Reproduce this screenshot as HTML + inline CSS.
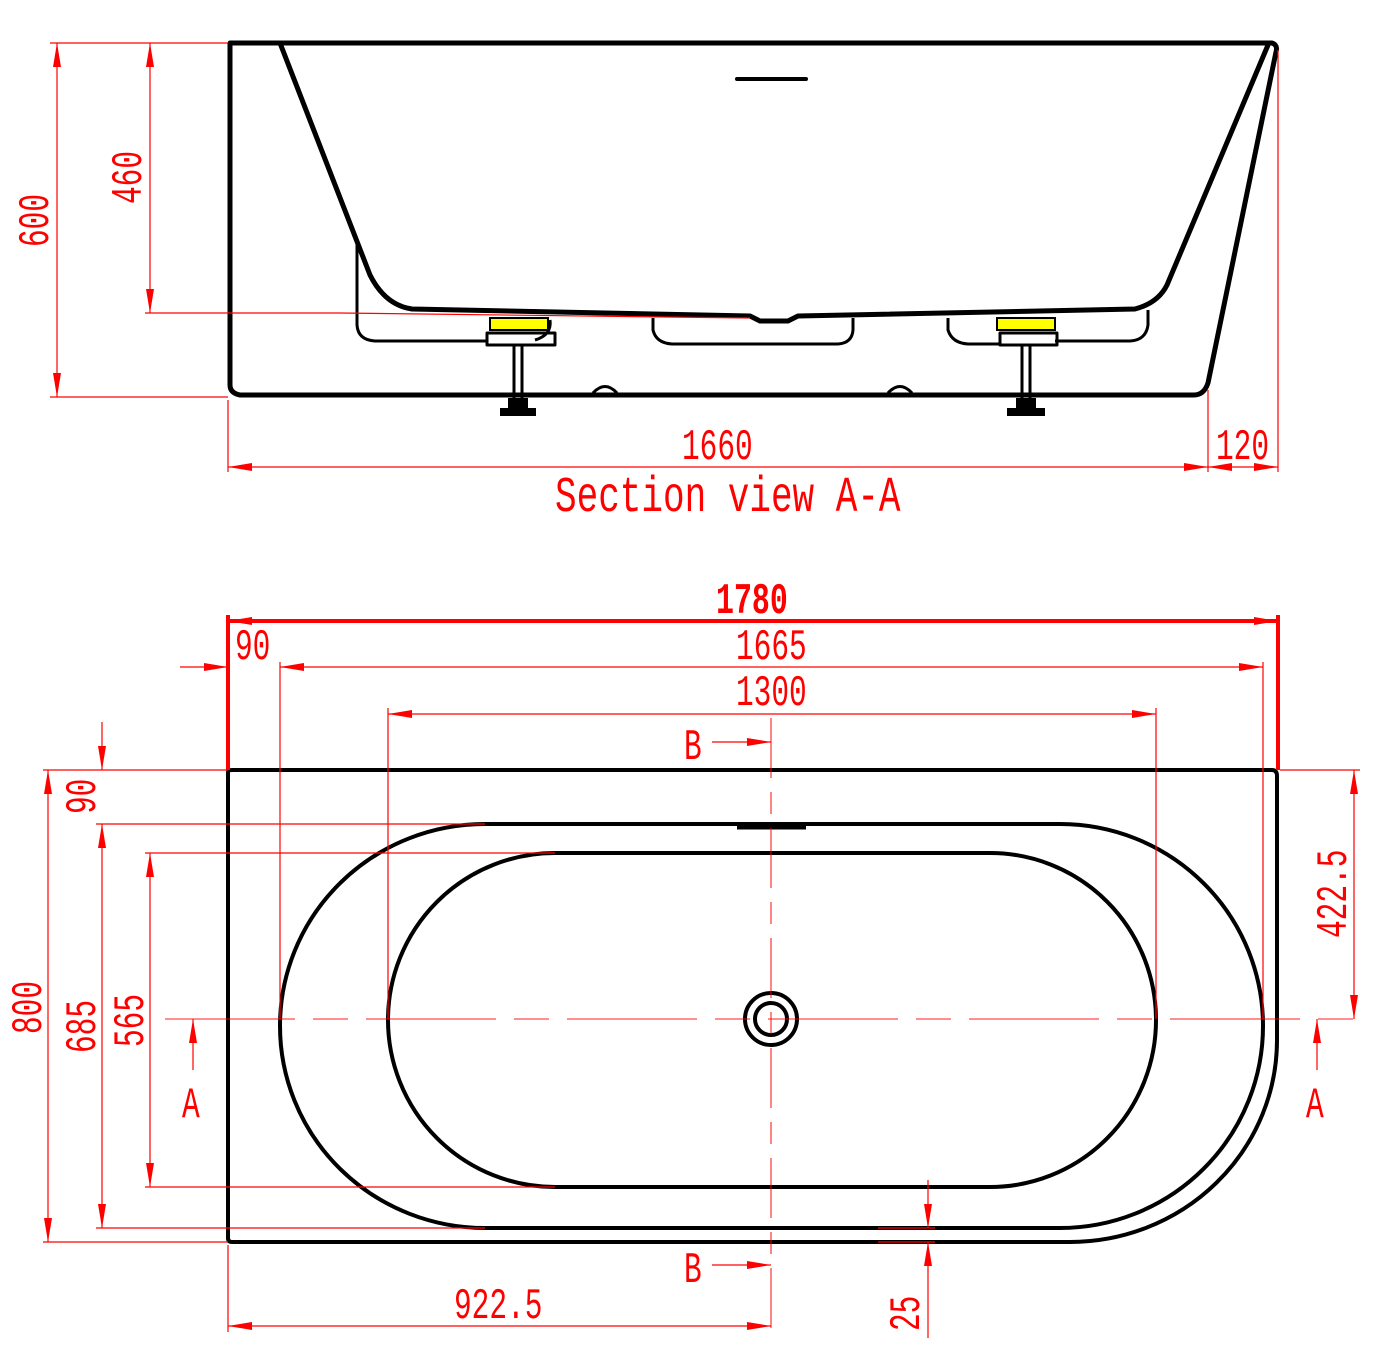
<!DOCTYPE html>
<html><head><style>
html,body{margin:0;padding:0;background:#fff;}
svg{display:block}
.t{font-family:"Liberation Mono",monospace;fill:#f00;}
</style></head><body>
<svg width="1382" height="1359" viewBox="0 0 1382 1359" xmlns="http://www.w3.org/2000/svg">
<defs>
<marker id="a" viewBox="0 0 24 8" refX="24" refY="4" markerWidth="24" markerHeight="8" markerUnits="userSpaceOnUse" orient="auto-start-reverse"><path d="M0,0 L24,4 L0,8 Z" fill="#f00"/></marker>
</defs>
<g fill="none" stroke="#000" stroke-width="5" stroke-linejoin="round" stroke-linecap="round">
<path d="M230,43 L1272,43 Q1278,45 1276,52 L1208,383 Q1204,395 1194,395 L240,395 Q230,393 230,385 Z"/>
<path d="M280,43 L370,275 Q385,305 412,309 L750,316 L760,321 L788,321 L798,316 L1135,309 Q1158,303 1167,285 L1268,45"/>
<path d="M737,79 L806,79" stroke-width="4"/>
</g>
<g fill="none" stroke="#000" stroke-width="3" stroke-linejoin="round">
<path d="M357,240 L357,325 Q358,340 375,341 L487,341"/>
<path d="M550,320 Q552,335 535,340"/>
<path d="M653,318 L653,330 Q656,343 672,344 L838,344 Q852,343 853,330 L853,318"/>
<path d="M948,318 L948,330 Q952,343 968,344 L1000,344"/>
<path d="M1148,310 L1148,325 Q1146,340 1130,341 L1055,341"/>
<path d="M487,333 L555,333 L555,345 L487,345 Z"/>
<path d="M1000,333 L1057,333 L1057,345 L1000,345 Z"/>
<path d="M514,345 L514,400 L522,400 L522,345"/>
<path d="M1022,345 L1022,400 L1030,400 L1030,345"/>
<path d="M593,393 Q605,380 617,393"/>
<path d="M888,393 Q900,380 912,393"/>
</g>
<rect x="500" y="408" width="36" height="8" fill="#000"/>
<rect x="508" y="398" width="20" height="12" fill="#000"/>
<rect x="1007" y="408" width="38" height="8" fill="#000"/>
<rect x="1016" y="398" width="20" height="12" fill="#000"/>
<rect x="490" y="318" width="58" height="12" fill="#ff0" stroke="#000" stroke-width="2"/>
<rect x="997" y="318" width="58" height="12" fill="#ff0" stroke="#000" stroke-width="2"/>
<line x1="340" y1="313" x2="750" y2="318" stroke="#f00" stroke-width="1.2"/>
<g stroke="#f00" stroke-width="1.2" fill="none">
<line x1="50" y1="43" x2="228" y2="43"/>
<line x1="50" y1="397" x2="228" y2="397"/>
<line x1="145" y1="313" x2="340" y2="313"/>
<line x1="57" y1="43" x2="57" y2="397" marker-start="url(#a)" marker-end="url(#a)"/>
<line x1="150" y1="43" x2="150" y2="313" marker-start="url(#a)" marker-end="url(#a)"/>
<line x1="228" y1="400" x2="228" y2="472"/>
<line x1="1208" y1="390" x2="1208" y2="472"/>
<line x1="1278" y1="50" x2="1278" y2="472"/>
<line x1="228" y1="467" x2="1208" y2="467" marker-start="url(#a)" marker-end="url(#a)"/>
<line x1="1208" y1="467" x2="1278" y2="467" marker-start="url(#a)" marker-end="url(#a)"/>
</g>
<g class="t" font-size="44">
<text transform="translate(48,247) rotate(-90) scale(0.67,1)">600</text>
<text transform="translate(141,204) rotate(-90) scale(0.67,1)">460</text>
<text transform="translate(682,459) scale(0.67,1)">1660</text>
<text transform="translate(1216,459) scale(0.67,1)">120</text>
<text transform="translate(555,511) scale(0.72,1)" font-size="50">Section view A-A</text>
</g>
<g fill="none" stroke="#000" stroke-width="4" stroke-linejoin="round">
<path d="M228,772 Q228,770 232,770 L1272,770 Q1277,770 1277,776 L1277,1040 A207,202 0 0 1 1070,1242 L232,1242 Q228,1242 228,1238 Z"/>
<path d="M485,824 L1060,824 A203,202 0 0 1 1060,1228 L485,1228 A205,202 0 0 1 485,824 Z"/>
<path d="M555,853 L990,853 A166,167 0 0 1 990,1187 L555,1187 A167,167 0 0 1 555,853 Z"/>
<circle cx="771" cy="1019" r="26"/>
<circle cx="771" cy="1019" r="16"/>
<path d="M737,827 L806,827" stroke-width="5"/>
</g>
<g stroke="#f00" stroke-width="1.2" fill="none">
<line x1="165" y1="1019" x2="1358" y2="1019" stroke-dasharray="130,18,35,18" opacity="0.7"/>
<line x1="771" y1="718" x2="771" y2="1340" stroke-dasharray="60,14,22,14" opacity="0.8"/>
<line x1="228" y1="615" x2="228" y2="770" stroke-width="4"/>
<line x1="1278" y1="615" x2="1278" y2="770" stroke-width="4"/>
<line x1="228" y1="621" x2="1278" y2="621" stroke-width="4" marker-start="url(#a)" marker-end="url(#a)"/>
<line x1="280" y1="662" x2="280" y2="1019"/>
<line x1="1263" y1="662" x2="1263" y2="1019"/>
<line x1="388" y1="708" x2="388" y2="1019"/>
<line x1="1156" y1="708" x2="1156" y2="1019"/>
<line x1="180" y1="667" x2="228" y2="667" marker-end="url(#a)"/>
<line x1="280" y1="667" x2="1263" y2="667" marker-start="url(#a)" marker-end="url(#a)"/>
<line x1="388" y1="714" x2="1156" y2="714" marker-start="url(#a)" marker-end="url(#a)"/>
<line x1="43" y1="770" x2="228" y2="770"/>
<line x1="43" y1="1242" x2="228" y2="1242"/>
<line x1="96" y1="824" x2="485" y2="824"/>
<line x1="96" y1="1228" x2="485" y2="1228"/>
<line x1="145" y1="853" x2="555" y2="853"/>
<line x1="145" y1="1187" x2="555" y2="1187"/>
<line x1="48" y1="770" x2="48" y2="1242" marker-start="url(#a)" marker-end="url(#a)"/>
<line x1="102" y1="722" x2="102" y2="770" marker-end="url(#a)"/>
<line x1="102" y1="824" x2="102" y2="1228" marker-start="url(#a)" marker-end="url(#a)"/>
<line x1="150" y1="853" x2="150" y2="1187" marker-start="url(#a)" marker-end="url(#a)"/>
<line x1="1280" y1="770" x2="1360" y2="770"/>
<line x1="1354" y1="770" x2="1354" y2="1019" marker-start="url(#a)" marker-end="url(#a)"/>
<line x1="193" y1="1070" x2="193" y2="1019" marker-end="url(#a)"/>
<line x1="1317" y1="1070" x2="1317" y2="1019" marker-end="url(#a)"/>
<line x1="712" y1="742" x2="771" y2="742" marker-end="url(#a)"/>
<line x1="712" y1="1265" x2="771" y2="1265" marker-end="url(#a)"/>
<line x1="228" y1="1245" x2="228" y2="1332"/>
<line x1="228" y1="1326" x2="771" y2="1326" marker-start="url(#a)" marker-end="url(#a)"/>
<line x1="878" y1="1228" x2="935" y2="1228"/>
<line x1="878" y1="1242" x2="935" y2="1242"/>
<line x1="928" y1="1180" x2="928" y2="1228" marker-end="url(#a)"/>
<line x1="928" y1="1338" x2="928" y2="1242" marker-end="url(#a)"/>
</g>
<g class="t" font-size="44">
<text transform="translate(716,613) scale(0.68,1)" font-weight="bold" font-size="44">1780</text>
<text transform="translate(235,659) scale(0.67,1)">90</text>
<text transform="translate(736,659) scale(0.67,1)">1665</text>
<text transform="translate(736,705) scale(0.67,1)">1300</text>
<text transform="translate(684,759) scale(0.67,1)">B</text>
<text transform="translate(684,1282) scale(0.67,1)">B</text>
<text transform="translate(182,1117) scale(0.67,1)">A</text>
<text transform="translate(1306,1117) scale(0.67,1)">A</text>
<text transform="translate(95,814) rotate(-90) scale(0.67,1)">90</text>
<text transform="translate(41,1034) rotate(-90) scale(0.67,1)">800</text>
<text transform="translate(95,1053) rotate(-90) scale(0.67,1)">685</text>
<text transform="translate(143,1047) rotate(-90) scale(0.67,1)">565</text>
<text transform="translate(1346,938) rotate(-90) scale(0.67,1)">422.5</text>
<text transform="translate(454,1318) scale(0.67,1)">922.5</text>
<text transform="translate(919,1331) rotate(-90) scale(0.67,1)">25</text>
</g>
</svg>
</body></html>
